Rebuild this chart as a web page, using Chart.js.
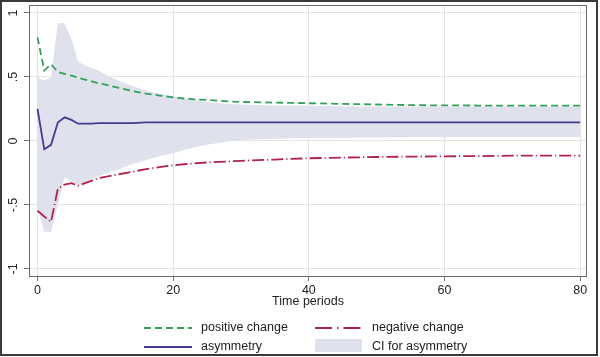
<!DOCTYPE html>
<html>
<head>
<meta charset="utf-8">
<script src="https://cdn.jsdelivr.net/npm/chart.js@4"></script>
<style>
html,body{margin:0;padding:0;background:#fff;}
#wrap{width:600px;height:357px;position:relative;}
</style>
</head>
<body>
<div id="wrap"><canvas id="c" width="600" height="357"></canvas></div>
<script>
const periods   = [0,1,2,3,4,5,6,7,8,9,10,12,14,16,18,20,22,25,28,30,35,40,45,50,55,60,65,70,75,80];
const positive  = [0.81,0.55,0.60,0.54,0.525,0.51,0.495,0.48,0.465,0.45,0.44,0.415,0.39,0.37,0.355,0.34,0.33,0.32,0.31,0.305,0.30,0.295,0.29,0.285,0.28,0.278,0.277,0.277,0.276,0.276];
const negative  = [-0.545,-0.59,-0.63,-0.375,-0.34,-0.33,-0.35,-0.33,-0.31,-0.29,-0.28,-0.26,-0.24,-0.22,-0.205,-0.19,-0.18,-0.168,-0.16,-0.155,-0.145,-0.135,-0.13,-0.125,-0.122,-0.12,-0.118,-0.115,-0.115,-0.115];
const asymmetry = [0.25,-0.065,-0.03,0.145,0.185,0.165,0.135,0.135,0.135,0.14,0.14,0.14,0.14,0.145,0.145,0.145,0.145,0.145,0.145,0.145,0.145,0.145,0.145,0.145,0.145,0.145,0.145,0.145,0.145,0.145];
const ciUpper   = [0.50,0.47,0.50,0.92,0.92,0.80,0.62,0.59,0.57,0.55,0.52,0.47,0.43,0.395,0.37,0.35,0.33,0.305,0.29,0.285,0.278,0.275,0.272,0.27,0.27,0.27,0.27,0.27,0.27,0.27];
const ciLower   = [-0.53,-0.71,-0.71,-0.50,-0.285,-0.32,-0.345,-0.32,-0.295,-0.275,-0.255,-0.22,-0.18,-0.15,-0.12,-0.095,-0.065,-0.03,-0.005,0.008,0.018,0.023,0.026,0.028,0.03,0.03,0.03,0.03,0.03,0.03];
const xTicks = [0,20,40,60,80];
const yTicks = [-1,-0.5,0,0.5,1];
const yTickLabels = ["-1","-.5","0",".5","1"];
const xTitle = "Time periods";
const legendLabels = ["positive change","negative change","asymmetry","CI for asymmetry"];

const GREEN = '#35a05c', RED = '#b0234c', PURPLE = '#4a3890', BAND = '#dfe2ed';
const FONT = '"Liberation Sans", Arial, sans-serif';
const pts = arr => periods.map((p,i)=>({x:p,y:arr[i]}));

const frame = {
  id:'frame',
  beforeDraw(chart){
    const ctx = chart.ctx;
    ctx.save();
    ctx.fillStyle='#fff';
    ctx.fillRect(0,0,chart.width,chart.height);
    ctx.restore();
  },
  afterDraw(chart){
    const ctx = chart.ctx, a = chart.chartArea, ys = chart.scales.y;
    ctx.save();
    ctx.strokeStyle='#6a6a6a'; ctx.lineWidth=1;
    ctx.strokeRect(Math.round(a.left)+0.5, Math.round(a.top)+0.5, Math.round(a.right-a.left)-1, Math.round(a.bottom-a.top));
    ctx.strokeStyle='#3a3a3a'; ctx.lineWidth=2;
    ctx.strokeRect(1,1,596,354);
    ctx.fillStyle='#222'; ctx.font='12.5px '+FONT;
    ctx.textAlign='center'; ctx.textBaseline='middle';
    yTicks.forEach((v,i)=>{
      const py = ys.getPixelForValue(v);
      ctx.save(); ctx.translate(14, py); ctx.rotate(-Math.PI/2);
      ctx.fillText(yTickLabels[i],0,0); ctx.restore();
    });
    ctx.textAlign='left'; ctx.textBaseline='middle';
    const r1 = 328, r2 = 347;
    const line = (x1,x2,y,color,dash,w)=>{ctx.save();ctx.strokeStyle=color;ctx.lineWidth=w;ctx.setLineDash(dash);ctx.beginPath();ctx.moveTo(x1,y);ctx.lineTo(x2,y);ctx.stroke();ctx.restore();};
    line(144,192,r1,GREEN,[7,4],1.8);
    ctx.fillText(legendLabels[0],201,r1);
    line(315,362,r1,RED,[17,5,1.5,5],1.8);
    ctx.fillText(legendLabels[1],372,r1);
    line(144,192,r2,PURPLE,[],1.8);
    ctx.fillText(legendLabels[2],201,r2);
    ctx.fillStyle=BAND; ctx.fillRect(315,339,47,13);
    ctx.fillStyle='#222';
    ctx.fillText(legendLabels[3],372,r2);
    ctx.restore();
  }
};

new Chart(document.getElementById('c'),{
  type:'line',
  data:{datasets:[
    {label:legendLabels[0],data:pts(positive),borderColor:GREEN,borderWidth:1.8,borderDash:[7,4],pointRadius:0,fill:false,tension:0},
    {label:legendLabels[1],data:pts(negative),borderColor:RED,borderWidth:1.8,borderDash:[12,3,1.2,3],pointRadius:0,fill:false,tension:0},
    {label:legendLabels[2],data:pts(asymmetry),borderColor:PURPLE,borderWidth:1.8,pointRadius:0,fill:false,tension:0},
    {label:legendLabels[3],data:pts(ciUpper),borderWidth:0,borderColor:BAND,backgroundColor:BAND,pointRadius:0,fill:'+1',tension:0},
    {label:'ci lower',data:pts(ciLower),borderWidth:0,borderColor:BAND,pointRadius:0,fill:false,tension:0}
  ]},
  options:{
    responsive:false,animation:false,
    layout:{padding:{left:0,top:5,right:13,bottom:0}},
    plugins:{legend:{display:false},tooltip:{enabled:false}},
    scales:{
      x:{type:'linear',min:-1.25,max:81,
        afterBuildTicks:s=>{s.ticks=xTicks.map(v=>({value:v}));},
        afterFit:s=>{s.height=81;},
        grid:{color:'#e4e4e4',tickColor:'#777',tickLength:5,drawOnChartArea:true},
        border:{display:false},
        ticks:{color:'#222',font:{family:FONT,size:12.5},padding:2,maxRotation:0,callback:v=>String(v)},
        title:{display:true,text:xTitle,color:'#222',font:{family:FONT,size:12.5},padding:{top:0,bottom:48}}
      },
      y:{type:'linear',min:-1.055,max:1.0625,
        afterBuildTicks:s=>{s.ticks=yTicks.map(v=>({value:v}));},
        afterFit:s=>{s.width=29;},
        grid:{color:'#e4e4e4',tickColor:'#777',tickLength:5},
        border:{display:false},
        ticks:{display:false}
      }
    }
  },
  plugins:[frame]
});
</script>
</body>
</html>
